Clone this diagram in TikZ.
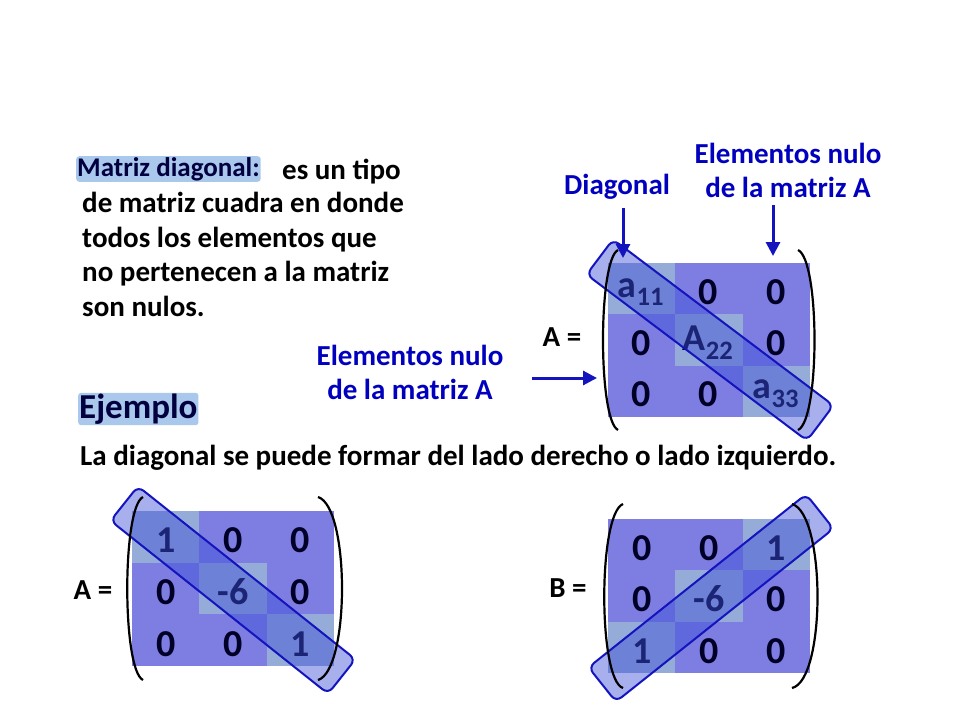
\documentclass[tikz,border=0pt]{standalone}
\usepackage{fontspec}
\setmainfont{Carlito}
\usetikzlibrary{arrows.meta}
\definecolor{cbase}{RGB}{125,125,226}
\definecolor{clight}{RGB}{150,172,216}
\definecolor{cband}{RGB}{60,80,215}
\definecolor{cline}{RGB}{20,20,190}
\definecolor{ctxt}{RGB}{0,0,190}
\definecolor{cglow}{RGB}{170,200,235}
\tikzset{
  txt/.style={font=\bfseries\fontsize{29}{34}\selectfont, inner sep=0pt},
  blu/.style={font=\bfseries\fontsize{29}{34}\selectfont, text=ctxt, align=center, inner sep=0pt},
  ent/.style={font=\bfseries\fontsize{38}{38}\selectfont, text=black!85!blue, inner sep=0pt},
  band/.style={draw=cline, line width=2pt, fill=cband, fill opacity=0.45, rounded corners=7pt},
  par/.style={line width=2.2pt, black},
  arr/.style={-{Triangle[length=14pt,width=14pt]}, line width=3pt, cline},
}
\begin{document}
\begin{tikzpicture}[x=1pt,y=-1pt]
\useasboundingbox (0,0) rectangle (960,720);
\fill[white] (0,0) rectangle (960,720);
% text block
\node[fill=cglow, rounded corners=3pt, inner sep=1pt, anchor=west, font=\bfseries\fontsize{27}{30}\selectfont, text=black!75!blue] (t0) at (76,169) {Matriz diagonal:};
\node[txt, anchor=west] (t1) at (282,172) {es un tipo};
\node[txt, anchor=north west, align=left, font=\bfseries\fontsize{29}{34.5}\selectfont] (t2) at (82,192) {de matriz cuadra en donde\\todos los elementos que\\no pertenecen a la matriz\\son nulos.};
\node[fill=cglow, rounded corners=3pt, inner sep=1pt, anchor=west, font=\bfseries\fontsize{35}{40}\selectfont, text=black!75!blue] (ej) at (78,409) {Ejemplo};
\node[anchor=west, inner sep=0pt, font=\bfseries\fontsize{29}{32}\selectfont] (sent) at (80,458) {La diagonal se puede formar del lado derecho o lado izquierdo.};
% top matrix
\fill[cbase] (608,263) rectangle (810,417);
\foreach \i in {0,1,2}{\fill[clight] (608+67.3*\i,263+51.3*\i) rectangle ++(67.3,51.3);}
\node[ent] (m11) at (641,292) {a\textsubscript{11}};
\node[ent] (m12) at (708,292) {0};
\node[ent] (m13) at (776,292) {0};
\node[ent] (m21) at (641,343) {0};
\node[ent] (m22) at (708,343) {A\textsubscript{22}};
\node[ent] (m23) at (776,343) {0};
\node[ent] (m31) at (641,394) {0};
\node[ent] (m32) at (708,394) {0};
\node[ent] (m33) at (776,394) {a\textsubscript{33}};
\draw[band, rotate around={-37:(710,340)}] (572,318) rectangle (848,362);
\draw[par] (618,250) .. controls (598,260) and (598,420) .. (618,430);
\draw[par] (798,250) .. controls (820,260) and (820,420) .. (798,430);
\node[txt] (A1) at (562,337) {A =};
\node[blu] (ld) at (617,187) {Diagonal};
\node[blu] (le1) at (788,170) {Elementos nulo\\de la matriz A};
\node[blu] (le2) at (410,372) {Elementos nulo\\de la matriz A};
\coordinate (d1) at (623,208); \coordinate (d2) at (623,258);
\coordinate (e1) at (773,205); \coordinate (e2) at (773,256);
\coordinate (f1) at (532,378); \coordinate (f2) at (597,378);
\draw[arr] (d1) -- (d2);
\draw[arr] (e1) -- (e2);
\draw[arr] (f1) -- (f2);
% bottom-left matrix
\fill[cbase] (132,511) rectangle (334,666);
\foreach \i in {0,1,2}{\fill[clight] (132+67.3*\i,511+51.7*\i) rectangle ++(67.3,51.7);}
\node[ent] (a11) at (166,540) {1};
\node[ent] (a12) at (233,540) {0};
\node[ent] (a13) at (300,540) {0};
\node[ent] (a21) at (166,592) {0};
\node[ent] (a22) at (233,592) {-6};
\node[ent] (a23) at (300,592) {0};
\node[ent] (a31) at (166,644) {0};
\node[ent] (a32) at (233,644) {0};
\node[ent] (a33) at (300,644) {1};
\draw[band, rotate around={-38.5:(233,590)}] (94,568) rectangle (372,612);
\draw[par] (143,497) .. controls (122,507) and (122,670) .. (143,680);
\draw[par] (318,497) .. controls (350,507) and (350,670) .. (318,680);
\node[txt] (A2) at (93,590) {A =};
% bottom-right matrix
\fill[cbase] (608,519) rectangle (810,673);
\foreach \i in {0,1,2}{\fill[clight] (742.6-67.3*\i,519+51.3*\i) rectangle ++(67.3,51.3);}
\node[ent] (b11) at (642,548) {0};
\node[ent] (b12) at (709,548) {0};
\node[ent] (b13) at (776,548) {1};
\node[ent] (b21) at (642,599) {0};
\node[ent] (b22) at (709,599) {-6};
\node[ent] (b23) at (776,599) {0};
\node[ent] (b31) at (642,651) {1};
\node[ent] (b32) at (709,651) {0};
\node[ent] (b33) at (776,651) {0};
\draw[band, rotate around={38.5:(711,598)}] (572,576) rectangle (850,620);
\draw[par] (623,504) .. controls (598,514) and (598,680) .. (623,688);
\draw[par] (792,504) .. controls (826,514) and (826,680) .. (792,688);
\node[txt] (B) at (568,588) {B =};
\end{tikzpicture}
\end{document}
